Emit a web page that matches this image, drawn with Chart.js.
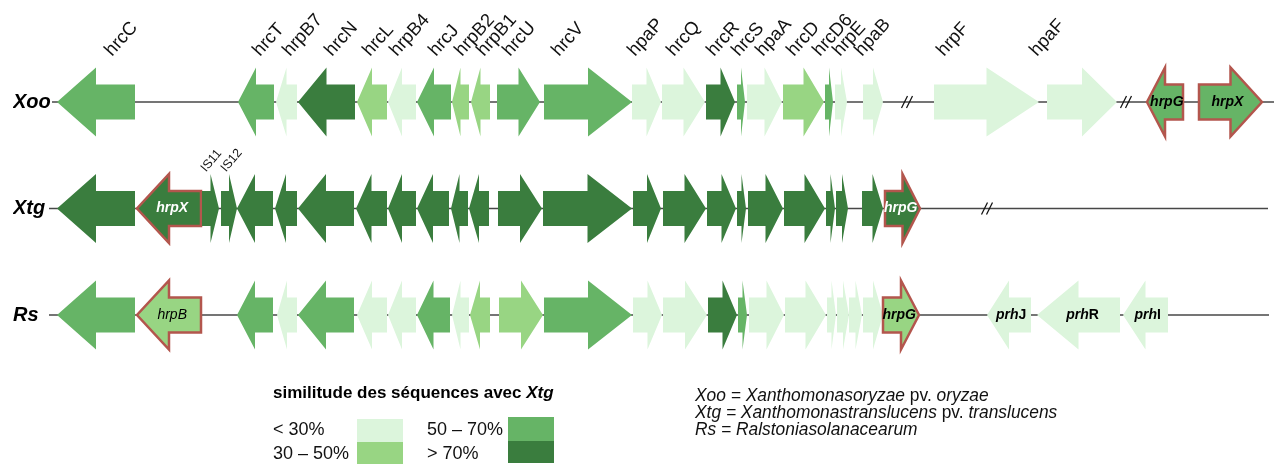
<!DOCTYPE html>
<html>
<head>
<meta charset="utf-8">
<script src="https://cdn.jsdelivr.net/npm/chart.js@4/dist/chart.umd.min.js"></script>
<style>
  html, body { margin: 0; padding: 0; background: #fff; }
  canvas { display: block; }
</style>
</head>
<body>
<canvas id="hrpMap" width="1274" height="464"></canvas>
<script>
// ---- data -------------------------------------------------------------
const tracks = ['Xoo', 'Xtg', 'Rs'];

// similarity classes (identity with the Xtg homologue)
const simClasses = ['< 30%', '30 – 50%', '50 – 70%', '> 70%'];
const simColors  = ['#dcf5dc', '#98d583', '#66b466', '#3a7d3e'];

// genes: [start (kb), end (kb), strand, similarity class, name written inside, regulator]
const xooGenes = [
  [0.0, 7.8, -1, 2, '', false],
  [18.1, 21.7, -1, 2, '', false],
  [21.9, 24.0, -1, 0, '', false],
  [24.1, 29.8, -1, 3, '', false],
  [30.0, 33.0, -1, 1, '', false],
  [33.1, 35.9, -1, 0, '', false],
  [36.0, 39.4, -1, 2, '', false],
  [39.5, 41.2, -1, 1, '', false],
  [41.4, 43.3, -1, 1, '', false],
  [44.0, 48.3, 1, 2, '', false],
  [48.7, 57.5, 1, 2, '', false],
  [57.5, 60.4, 1, 0, '', false],
  [60.5, 64.8, 1, 0, '', false],
  [64.9, 67.8, 1, 3, '', false],
  [68.0, 68.8, 1, 2, '', false],
  [69.0, 72.5, 1, 0, '', false],
  [72.6, 76.7, 1, 1, '', false],
  [76.8, 77.6, 1, 2, '', false],
  [77.8, 79.0, 1, 0, '', false],
  [80.6, 82.6, 1, 0, '', false],
  [87.7, 98.2, 1, 0, '', false],
  [99.0, 106.0, 1, 0, '', false],
  [109.0, 112.6, -1, 2, 'hrpG', true],
  [114.2, 120.5, 1, 2, 'hrpX', true]
];

const xtgGenes = [
  [0.0, 7.8, -1, 3, '', false],
  [8.0, 14.4, -1, 3, 'hrpX', true],
  [14.5, 16.2, 1, 3, '', false],
  [16.4, 18.0, 1, 3, '', false],
  [18.0, 21.6, -1, 3, '', false],
  [21.8, 24.0, -1, 3, '', false],
  [24.1, 29.7, -1, 3, '', false],
  [29.9, 33.0, -1, 3, '', false],
  [33.1, 35.9, -1, 3, '', false],
  [36.0, 39.2, -1, 3, '', false],
  [39.4, 41.1, -1, 3, '', false],
  [41.2, 43.2, -1, 3, '', false],
  [44.1, 48.5, 1, 3, '', false],
  [48.6, 57.5, 1, 3, '', false],
  [57.6, 60.4, 1, 3, '', false],
  [60.6, 64.9, 1, 3, '', false],
  [65.0, 67.9, 1, 3, '', false],
  [68.0, 68.9, 1, 3, '', false],
  [69.1, 72.6, 1, 3, '', false],
  [72.7, 76.8, 1, 3, '', false],
  [76.9, 77.8, 1, 3, '', false],
  [77.9, 79.1, 1, 3, '', false],
  [80.5, 82.6, 1, 3, '', false],
  [82.8, 86.3, 1, 3, 'hrpG', true]
];

const rsGenes = [
  [0.0, 7.8, -1, 2, '', false],
  [8.0, 14.4, -1, 1, 'hrpB', true],
  [18.0, 21.6, -1, 2, '', false],
  [22.0, 24.0, -1, 0, '', false],
  [24.1, 29.7, -1, 2, '', false],
  [30.0, 33.0, -1, 0, '', false],
  [33.1, 35.9, -1, 0, '', false],
  [36.0, 39.3, -1, 2, '', false],
  [39.5, 41.2, -1, 0, '', false],
  [41.3, 43.3, -1, 1, '', false],
  [44.2, 48.6, 1, 1, '', false],
  [48.7, 57.5, 1, 2, '', false],
  [57.6, 60.5, 1, 0, '', false],
  [60.6, 65.0, 1, 0, '', false],
  [65.1, 68.0, 1, 3, '', false],
  [68.1, 69.0, 1, 2, '', false],
  [69.2, 72.7, 1, 0, '', false],
  [72.8, 76.9, 1, 0, '', false],
  [77.0, 77.9, 1, 0, '', false],
  [78.0, 79.2, 1, 0, '', false],
  [79.2, 80.5, 1, 0, '', false],
  [80.6, 82.6, 1, 0, '', false],
  [82.6, 86.2, 1, 1, 'hrpG', true],
  [93.0, 97.4, -1, 0, 'prhJ', false],
  [98.0, 106.3, -1, 0, 'prhR', false],
  [106.6, 111.1, -1, 0, 'prhI', false]
];

const trackGenes = [xooGenes, xtgGenes, rsGenes];

// extent of each chromosome segment and positions of the sequence breaks (kb)
const trackSpans  = [[-0.5, 121.7], [-0.8, 121.1], [-0.8, 121.2]];
const trackBreaks = [[85.0, 106.9], [93.0], []];

// gene names written above the Xoo track, with their anchor positions (kb)
const xooNames = ['hrcC', 'hrcT', 'hrpB7', 'hrcN', 'hrcL', 'hrpB4', 'hrcJ', 'hrpB2', 'hrpB1',
                  'hrcU', 'hrcV', 'hpaP', 'hrcQ', 'hrcR', 'hrcS', 'hpaA', 'hrcD', 'hrcD6',
                  'hrpE', 'hpaB', 'hrpF', 'hpaF'];
const xooNameAt = [5.5, 20.3, 23.3, 27.5, 31.3, 34.0, 37.9, 40.5, 42.7,
                   45.3, 50.2, 57.8, 61.7, 65.7, 68.2, 70.6, 73.7, 76.3,
                   78.3, 80.5, 88.7, 98.0];
// insertion sequences named above the Xtg track
const xtgNames  = ['IS11', 'IS12'];
const xtgNameAt = [14.9, 16.9];

// ---- drawing helpers --------------------------------------------------
const FONT = '"Liberation Sans", Arial, sans-serif';
const OUTLINE = '#b3564d';

function arrowPath(ctx, left, right, cy, hh, bh, strand) {
  const head = (right - left) * 0.5;
  ctx.beginPath();
  if (strand > 0) {
    ctx.moveTo(left, cy - bh);
    ctx.lineTo(right - head, cy - bh);
    ctx.lineTo(right - head, cy - hh);
    ctx.lineTo(right, cy);
    ctx.lineTo(right - head, cy + hh);
    ctx.lineTo(right - head, cy + bh);
    ctx.lineTo(left, cy + bh);
  } else {
    ctx.moveTo(right, cy - bh);
    ctx.lineTo(left + head, cy - bh);
    ctx.lineTo(left + head, cy - hh);
    ctx.lineTo(left, cy);
    ctx.lineTo(left + head, cy + hh);
    ctx.lineTo(left + head, cy + bh);
    ctx.lineTo(right, cy + bh);
  }
  ctx.closePath();
}

function insideLabel(ctx, track, name, cx, cy) {
  const ink = track === 'Xtg' ? '#ffffff' : '#000000';
  ctx.fillStyle = ink;
  ctx.textBaseline = 'middle';
  if (name.startsWith('prh')) {
    const a = name.slice(0, 3), b = name.slice(3);
    const fa = 'italic bold 14px ' + FONT, fb = 'bold 14px ' + FONT;
    ctx.font = fa; const wa = ctx.measureText(a).width;
    ctx.font = fb; const wb = ctx.measureText(b).width;
    const x0 = cx - (wa + wb) / 2;
    ctx.textAlign = 'left';
    ctx.font = fa; ctx.fillText(a, x0, cy);
    ctx.font = fb; ctx.fillText(b, x0 + wa, cy);
  } else {
    ctx.font = (name === 'hrpB' ? 'italic 14px ' : 'italic bold 14px ') + FONT;
    ctx.textAlign = 'center';
    ctx.fillText(name, cx, cy);
  }
}

function rotatedName(ctx, text, x, y, size, deg) {
  ctx.save();
  ctx.translate(x, y);
  ctx.rotate(-deg * Math.PI / 180);
  ctx.font = size + 'px ' + FONT;
  ctx.fillStyle = '#111';
  ctx.textAlign = 'left';
  ctx.textBaseline = 'alphabetic';
  ctx.fillText(text, 0, 0);
  ctx.restore();
}

function runs(ctx, parts, x, y, size, squeeze) {
  ctx.save();
  ctx.translate(x, y);
  ctx.scale(squeeze, 1);
  let cx = 0;
  ctx.textAlign = 'left';
  ctx.textBaseline = 'alphabetic';
  for (const [txt, style] of parts) {
    ctx.font = style + ' ' + size + 'px ' + FONT;
    ctx.fillText(txt, cx, 0);
    cx += ctx.measureText(txt).width;
  }
  ctx.restore();
}

const geneTrack = {
  id: 'geneTrack',
  beforeDatasetsDraw(chart) {
    const { ctx, scales: { x, y } } = chart;
    ctx.save();
    ctx.strokeStyle = '#474747';
    ctx.lineWidth = 1.3;
    tracks.forEach((t, i) => {
      const yy = y.getPixelForValue(i);
      ctx.beginPath();
      ctx.moveTo(x.getPixelForValue(trackSpans[i][0]), yy);
      ctx.lineTo(x.getPixelForValue(trackSpans[i][1]), yy);
      ctx.stroke();
    });
    ctx.strokeStyle = '#111';
    ctx.lineWidth = 1.2;
    trackBreaks.forEach((list, i) => {
      const yy = y.getPixelForValue(i);
      list.forEach(v => {
        const px = x.getPixelForValue(v);
        for (const dx of [-2.5, 2.5]) {
          ctx.beginPath();
          ctx.moveTo(px + dx - 3, yy + 6);
          ctx.lineTo(px + dx + 3, yy - 6);
          ctx.stroke();
        }
      });
    });
    ctx.restore();
  },
  beforeDatasetDraw(chart, args) {
    const ctx = chart.ctx;
    const genes = trackGenes[args.index];
    const track = tracks[args.index];
    ctx.save();
    args.meta.data.forEach((el, j) => {
      const g = genes[j];
      const left = Math.min(el.x, el.base), right = Math.max(el.x, el.base);
      const hh = el.height / 2, bh = hh * 0.507;
      arrowPath(ctx, left, right, el.y, hh, bh, g[2]);
      ctx.fillStyle = el.options.backgroundColor;
      ctx.fill();
      if (g[5]) {
        ctx.lineWidth = 2.5;
        ctx.lineJoin = 'miter';
        ctx.strokeStyle = el.options.borderColor;
        ctx.stroke();
      }
      if (g[4]) {
        const len = right - left;
        const cx = (left + right) / 2 - g[2] * 0.05 * len;
        insideLabel(ctx, track, g[4], cx, el.y);
      }
    });
    ctx.restore();
    return false;
  },
  afterDatasetsDraw(chart) {
    const { ctx, scales: { x, y } } = chart;
    const yXoo = y.getPixelForValue(0), yXtg = y.getPixelForValue(1);
    xooNames.forEach((n, i) => rotatedName(ctx, n, x.getPixelForValue(xooNameAt[i]), yXoo - 45, 18.5, 48));
    xtgNames.forEach((n, i) => rotatedName(ctx, n, x.getPixelForValue(xtgNameAt[i]), yXtg - 36, 12.5, 50));
  },
  afterDraw(chart) {
    const ctx = chart.ctx;
    ctx.save();
    // similarity key
    runs(ctx, [['similitude des séquences avec ', 'bold'], ['Xtg', 'italic bold']], 273, 398, 17, 1);
    const swatches = [[357, 419, 46, 23], [357, 442, 46, 22], [508, 417, 46, 24], [508, 441, 46, 22]];
    const textPos = [[273, 435], [273, 459], [427, 435], [427, 459]];
    simClasses.forEach((lab, i) => {
      const s = swatches[i];
      ctx.fillStyle = simColors[i];
      ctx.fillRect(s[0], s[1], s[2], s[3]);
      ctx.fillStyle = '#111';
      runs(ctx, [[lab, 'normal']], textPos[i][0], textPos[i][1], 18, 1);
    });
    // species abbreviations
    ctx.fillStyle = '#111';
    runs(ctx, [['Xoo = Xanthomonasoryzae', 'italic'], [' pv. ', 'normal'], ['oryzae', 'italic']], 695, 401, 18, 0.965);
    runs(ctx, [['Xtg = Xanthomonastranslucens', 'italic'], [' pv. ', 'normal'], ['translucens', 'italic']], 695, 418, 18, 0.965);
    runs(ctx, [['Rs = Ralstoniasolanacearum', 'italic']], 695, 435, 18, 0.965);
    ctx.restore();
  }
};

// ---- chart ------------------------------------------------------------
const datasets = tracks.map((t, i) => ({
  label: t,
  data: trackGenes[i].map(g => ({ x: [g[0], g[1]], y: t })),
  backgroundColor: c => simColors[trackGenes[c.datasetIndex][c.dataIndex][3]],
  borderColor: OUTLINE,
  borderWidth: 0,
  barThickness: 69,
  grouped: false
}));

new Chart(document.getElementById('hrpMap'), {
  type: 'bar',
  data: { labels: tracks, datasets },
  options: {
    indexAxis: 'y',
    responsive: false,
    animation: false,
    events: [],
    layout: { padding: { left: 13, right: 0, top: 48.75, bottom: 95.75 } },
    plugins: { legend: { display: false }, tooltip: { enabled: false } },
    scales: {
      x: { type: 'linear', min: -0.5, max: 121.7, display: false },
      y: {
        type: 'category',
        offset: true,
        grid: { display: false },
        border: { display: false },
        ticks: {
          autoSkip: false,
          crossAlign: 'far',
          color: '#000',
          font: { family: FONT, size: 20, weight: 'bold', style: 'italic' }
        },
        afterFit: s => { s.width = 39; }
      }
    }
  },
  plugins: [geneTrack]
});
</script>
</body>
</html>
